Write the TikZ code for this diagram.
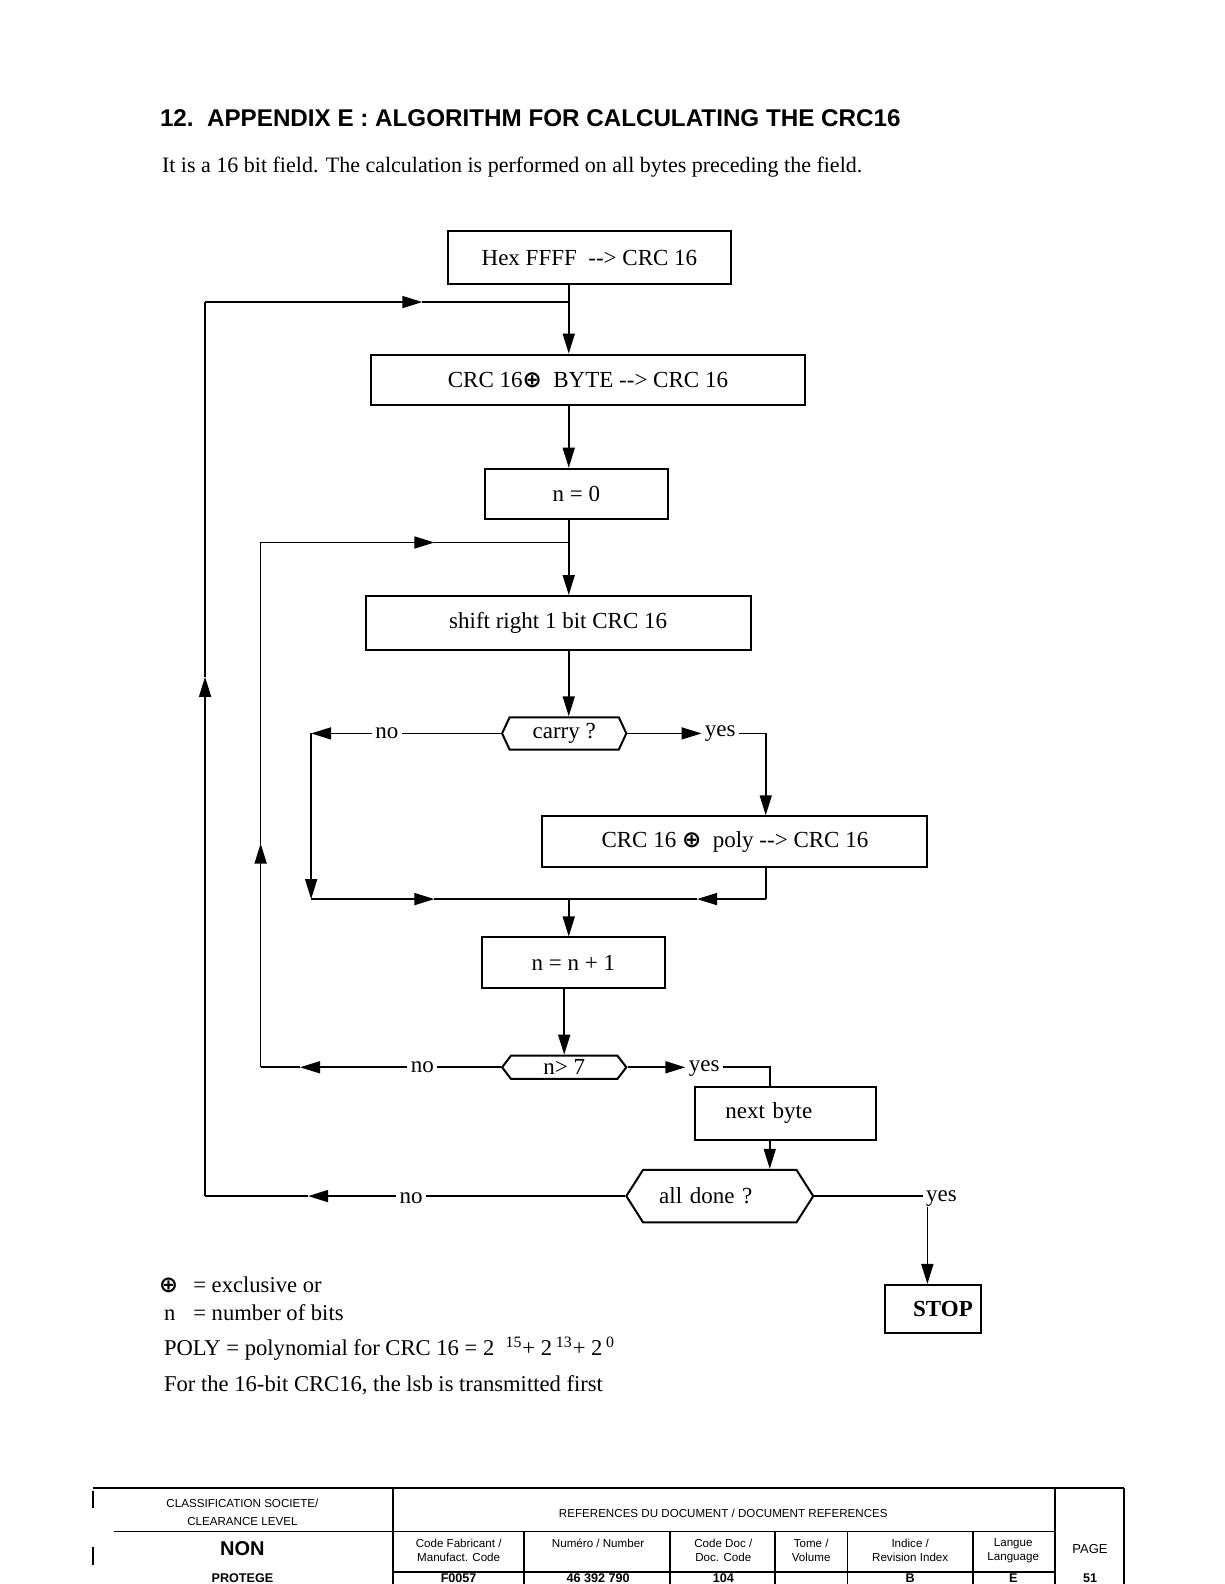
\documentclass[tikz,border=0pt]{standalone}
\usepackage{fontspec}
\setmainfont{Liberation Serif}
\setsansfont{Liberation Sans}
\newfontfamily\symfont{DejaVu Sans}
\usetikzlibrary{arrows.meta,positioning,shapes.symbols}
\def\dpx{0.505pt}
\newcommand{\xor}{{\symfont\bfseries ⊕}}
\tikzset{
  procbox/.style={draw, line width=1pt, inner sep=0pt, align=center,
    font=\fontsize{11.5}{14}\selectfont},
  decision/.style={draw, line width=1pt, shape=signal, signal to=east and west,
    inner sep=0pt, font=\fontsize{11.5}{14}\selectfont},
  answer/.style={inner sep=1.5pt, font=\fontsize{11.5}{14}\selectfont},
  line/.style={line width=0.8pt},
  flow/.style={line width=0.8pt, -{Triangle[length=10pt,width=6pt]}},
  legend/.style={anchor=base west, inner sep=0pt, font=\fontsize{11.3}{13}\selectfont},
  cell/.style={font=\sffamily\fontsize{5.8}{7}\selectfont, align=center, inner sep=0pt},
  bigcell/.style={font=\sffamily\bfseries\fontsize{10}{12}\selectfont, inner sep=0pt},
  valcell/.style={font=\sffamily\bfseries\fontsize{6.3}{7}\selectfont, inner sep=0pt},
  rule/.style={line width=0.9pt}
}
\begin{document}
\begin{tikzpicture}[x=\dpx, y=-\dpx]
\useasboundingbox (0,0) rectangle (1212,1568);

% heading
\node[anchor=west, inner sep=0pt, font=\sffamily\bfseries\fontsize{12.1}{14}\selectfont]
  (title) at (158,117) {12.\ \ APPENDIX E : ALGORITHM FOR CALCULATING THE CRC16};
\node[anchor=west, inner sep=0pt, font=\fontsize{11}{13}\selectfont]
  (intro) at (160,165) {It is a 16 bit field. The calculation is performed on all bytes preceding the field.};

% flowchart boxes
\node[procbox, minimum width={281*\dpx}, minimum height={52*\dpx}] (init) at (583.5,255) {Hex FFFF \ -{}-{}> CRC 16};
\node[procbox, minimum width={430*\dpx}, minimum height={50*\dpx}] (crcbyte) at (582,376) {CRC 16\xor\ \ BYTE -{}-{}> CRC 16};
\node[procbox, minimum width={181*\dpx}, minimum height={50*\dpx}] (nzero) at (570.5,489) {n = 0};
\node[procbox, minimum width={381*\dpx}, minimum height={53*\dpx}] (shift) at (552.5,616.5) {shift right 1 bit CRC 16};
\node[decision, minimum width={123*\dpx}, minimum height={32*\dpx}, signal pointer angle=130] (carry) at (558.5,726) {carry ?};
\node[procbox, minimum width={381*\dpx}, minimum height={50*\dpx}] (crcpoly) at (727.5,833) {CRC 16 \xor\ \ poly -{}-{}> CRC 16};
\node[procbox, minimum width={181*\dpx}, minimum height={50*\dpx}] (ninc) at (567.5,953) {n = n + 1};
\node[decision, minimum width={123*\dpx}, minimum height={23*\dpx}, signal pointer angle=105] (ngt) at (558.5,1056.5) {n> 7};
\node[procbox, minimum height={52*\dpx}, text width={119*\dpx}, inner xsep={30*\dpx}, align=left] (nextb) at (777.5,1102) {next byte};
\node[decision, minimum width={185*\dpx}, minimum height={52*\dpx}, signal pointer angle=115, text width={120*\dpx}, align=left] (alldone) at (712.5,1184) {all done ?};
\node[procbox, minimum height={48*\dpx}, text width={79*\dpx}, inner xsep={8*\dpx}, align=right, font=\bfseries\fontsize{11.5}{14}\selectfont] (stop) at (923.5,1296) {STOP};

% yes / no labels
\node[answer] (no1) at (383,726) {no};
\node[answer] (yes1) at (713,726) {yes};
\node[answer] (no2) at (418,1056.5) {no};
\node[answer] (yes2) at (697,1058) {yes};
\node[answer] (no3) at (407,1186) {no};
\node[answer] (yes3) at (932,1186) {yes};

% corners and arrow tips
\coordinate (top) at (563,299);
\coordinate (outer) at (203,299);
\coordinate (outerb) at (203,1184);
\coordinate (inner) at (258,537);
\coordinate (innerb) at (258,1056.5);
\coordinate (bit) at (563,537);
\coordinate (noleft) at (308,726);
\coordinate (merge) at (563,890);
\coordinate (mergel) at (308,890);
\coordinate (merger) at (758,890);
\coordinate (yesr) at (758,726);
\coordinate (nextr) at (762,1056.5);
\coordinate (stopt) at (918,1195);
\coordinate (a1) at (418,299);
\coordinate (a2) at (203,670);
\coordinate (a3) at (430,537);
\coordinate (a4) at (258,835);
\coordinate (a5) at (430,890);
\coordinate (a6) at (690,890);
\coordinate (a7) at (297,1056.5);
\coordinate (a8) at (305,1184);

% main column
\draw[line] (init.south -| top) -- (top);
\draw[flow] (top) -- (crcbyte.north -| top);
\draw[flow] (crcbyte.south -| top) -- (nzero.north -| top);
\draw[line] (nzero.south -| bit) -- (bit);
\draw[flow] (bit) -- (shift.north -| bit);
\draw[flow] (shift.south -| bit) -- (carry.north -| bit);

% carry ?
\draw[line] (carry.west) -- (carry.west -| no1.east);
\draw[flow] (carry.west -| no1.west) -- (noleft);
\draw[flow] (noleft) -- (mergel);
\draw[flow] (mergel) -- (a5);
\draw[line] (a5) -- (merge);
\draw[flow] (carry.east) -- (carry.east -| yes1.west);
\draw[line] (carry.east -| yes1.east) -- (yesr);
\draw[flow] (yesr) -- (crcpoly.north -| yesr);
\draw[line] (crcpoly.south -| merger) -- (merger);
\draw[flow] (merger) -- (a6);
\draw[line] (a6) -- (merge);
\draw[flow] (merge) -- (ninc.north -| merge);
\draw[flow] (ninc.south -| ngt.north) -- (ngt.north);

% n > 7
\draw[line] (ngt.west) -- (ngt.west -| no2.east);
\draw[flow] (ngt.west -| no2.west) -- (a7);
\draw[line] (a7) -- (innerb);
\draw[flow] (innerb) -- (a4);
\draw[line] (a4) -- (inner);
\draw[flow] (inner) -- (a3);
\draw[line] (a3) -- (bit);
\draw[flow] (ngt.east) -- (ngt.east -| yes2.west);
\draw[line] (ngt.east -| yes2.east) -- (nextr) -- (nextb.north -| nextr);
\draw[flow] (nextb.south -| nextr) -- (alldone.north -| nextr);

% all done ?
\draw[line] (alldone.west) -- (alldone.west -| no3.east);
\draw[flow] (alldone.west -| no3.west) -- (a8);
\draw[line] (a8) -- (outerb);
\draw[flow] (outerb) -- (a2);
\draw[line] (a2) -- (outer);
\draw[flow] (outer) -- (a1);
\draw[line] (a1) -- (top);
\draw[line] (alldone.east) -- (alldone.east -| yes3.west);
\draw[flow] (stopt) -- (stop.north -| stopt);

% legend
\node[legend] (xsym) at (157,1279) {\xor};
\node[legend] (xdef) at (191,1279) {= exclusive or};
\node[legend] (nsym) at (162,1307) {n};
\node[legend] (ndef) at (191,1307) {= number of bits};
\node[legend] (poly) at (162,1342) {POLY = polynomial for CRC 16 = 2 \ \textsuperscript{15}+ 2\,\textsuperscript{13}+ 2\,\textsuperscript{0}};
\node[legend] (lsb) at (162,1377) {For the 16-bit CRC16, the lsb is transmitted first};

% footer table
\draw[rule] (92,1473) -- (1113,1473);
\draw[rule] (92,1476) -- (92,1493);
\draw[rule] (92,1531) -- (92,1549);
\draw[rule] (1113,1473) -- (1113,1568);
\draw[rule] (389,1473) -- (389,1568);
\draw[rule] (1044,1473) -- (1044,1568);
\draw[rule] (113,1516) -- (1044,1516);
\draw[rule] (389,1556) -- (1044,1556);
\foreach \cx in {519,663,767,839,963}
  \draw[rule] (\cx,1516) -- (\cx,1568);

\node[cell] (clas) at (240,1488) {CLASSIFICATION SOCIETE/};
\node[cell] (clear) at (240,1506) {CLEARANCE LEVEL};
\node[bigcell] (non) at (240,1533) {NON};
\node[cell] (refs) at (716,1498) {REFERENCES DU DOCUMENT / DOCUMENT REFERENCES};
\node[cell] (manuf) at (454,1535) {Code Fabricant /\\Manufact. Code};
\node[cell] (numero) at (592,1528) {Numéro / Number};
\node[cell] (doccode) at (716,1535) {Code Doc /\\Doc. Code};
\node[cell] (tome) at (803,1535) {Tome /\\Volume};
\node[cell] (indice) at (901,1535) {Indice /\\Revision Index};
\node[cell] (langue) at (1003,1535) {Langue\\Language};
\node[cell, font=\sffamily\fontsize{6.5}{8}\selectfont] (page) at (1079,1533) {PAGE};
\node[valcell] (prot) at (240,1562) {PROTEGE};
\node[valcell] (manufv) at (454,1562) {F0057};
\node[valcell] (numv) at (592,1562) {46 392 790};
\node[valcell] (docv) at (716,1562) {104};
\node[valcell] (indv) at (901,1562) {B};
\node[valcell] (langv) at (1003,1562) {E};
\node[valcell] (pagev) at (1079,1562) {51};
\end{tikzpicture}
\end{document}
